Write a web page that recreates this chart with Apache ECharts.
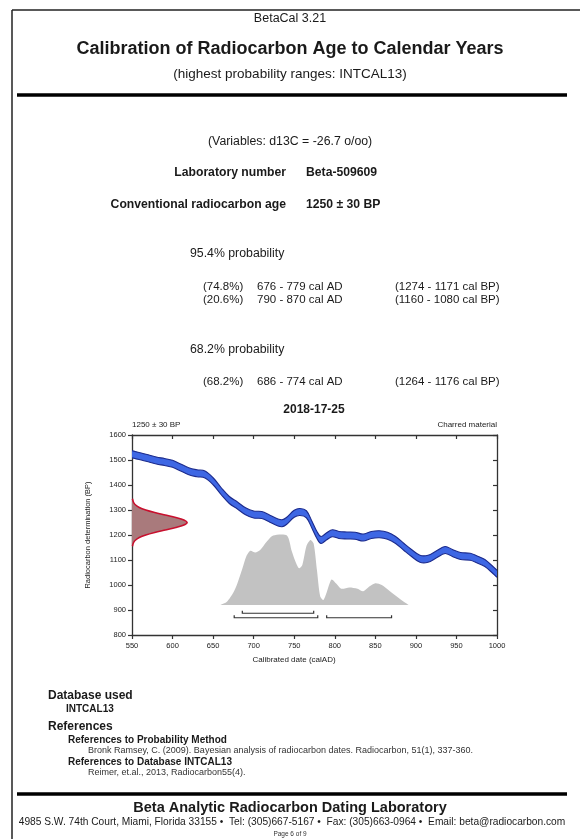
<!DOCTYPE html>
<html><head><meta charset="utf-8">
<script src="https://cdn.jsdelivr.net/npm/echarts@6/dist/echarts.min.js"></script>
<style>html,body{margin:0;padding:0;background:#fff}#c{width:580px;height:839px}</style>
</head><body><div id="c"></div>
<script>
// ---- calibration curve (INTCAL13) : calendar year AD -> BP (centre of band)
const calYears = [550,560,570,580,590,600,610,620,630,640,650,660,670,680,690,700,710,720,730,735,740,750,757,765,772,778,783,790,797,805,815,825,835,845,855,865,875,885,895,905,915,925,936,945,955,967,975,985,995,1000];
const calBP    = [1523,1515,1507,1498,1492,1485,1470,1455,1447,1442,1415,1375,1340,1318,1295,1282,1280,1265,1250,1247,1255,1285,1292,1283,1240,1200,1180,1195,1207,1200,1198,1197,1190,1200,1203,1197,1180,1153,1127,1105,1105,1122,1140,1128,1116,1113,1103,1088,1060,1045];
const calHalfWidth = 14;
// ---- calibrated probability distribution (grey)
const probYears = [659,667,675,680,686,691,696,702,708,716,724,741,747,752,756,760,765,770,774,778,782,786,790,796,802,808,818,828,835,843,850,858,868,880,891];
const probBP    = [920,933,970,1007,1065,1115,1137,1130,1140,1173,1198,1198,1135,1090,1067,1080,1155,1180,1165,1060,955,940,970,1022,1005,985,990,985,975,995,1007,1000,975,945,920];
const probBase = 920;
// ---- radiocarbon age distribution (red), width in axis years from 550
const gaussBP    = [1345,1330,1320,1310,1300,1290,1280,1270,1260,1250,1240,1230,1220,1210,1200,1190,1180,1170,1155];
const gaussWidth = [0.5,2,4.5,9,17,28,41,54,64,68,64,54,41,28,17,9,4.5,2,0.5];
const gaussBaseYear = 550;
// ---- probability ranges
const ranges95 = [[676,779],[790,870]];
const ranges68 = [[686,774]];
const range95Level = 869;
const range68Level = 887;
// ---- axes
const xMin = 550, xMax = 1000, xStep = 50;
const yMin = 800, yMax = 1600, yStep = 100;

const FF = '"Liberation Sans", Arial, Helvetica, sans-serif';
const chart = echarts.init(document.getElementById('c'), null, {renderer: 'canvas'});

function txt(text, x, y, size, opts) {
  opts = opts || {};
  return {type: 'text', z: 10, style: {
    text: text, x: x, y: y,
    font: (opts.bold ? 'bold ' : '') + size + 'px ' + FF,
    fill: opts.color || '#1a1a1a',
    align: opts.align || 'left', textAlign: opts.align || 'left',
    verticalAlign: 'middle', textVerticalAlign: 'middle'
  }};
}
function hline(x1, x2, y, w, c) {
  return {type: 'line', z: 10, shape: {x1: x1, y1: y, x2: x2, y2: y}, style: {stroke: c || '#000', lineWidth: w}};
}
function vline(x, y1, y2, w, c) {
  return {type: 'line', z: 10, shape: {x1: x, y1: y1, x2: x, y2: y2}, style: {stroke: c || '#000', lineWidth: w}};
}

const graphics = [
  hline(12, 580, 10, 1.5, '#222'),
  vline(12, 10, 839, 1.5, '#222'),
  txt('BetaCal 3.21', 290, 19, 12.5, {align: 'center'}),
  txt('Calibration of Radiocarbon Age to Calendar Years', 290, 49, 18, {bold: true, align: 'center'}),
  txt('(highest probability ranges: INTCAL13)', 290, 74, 13.5, {align: 'center'}),
  hline(17, 567, 95, 3.5, '#000'),
  txt('(Variables: d13C = -26.7 o/oo)', 208, 142, 12.3),
  txt('Laboratory number', 286, 173, 12.2, {bold: true, align: 'right'}),
  txt('Beta-509609', 306, 173, 12.2, {bold: true}),
  txt('Conventional radiocarbon age', 286, 205, 12.2, {bold: true, align: 'right'}),
  txt('1250 \u00b1 30 BP', 306, 205, 12.2, {bold: true}),
  txt('95.4% probability', 190, 254, 12.3),
  txt('(74.8%)', 203, 287, 11.5),
  txt('676 - 779 cal AD', 257, 287, 11.5),
  txt('(1274 - 1171 cal BP)', 395, 287, 11.5),
  txt('(20.6%)', 203, 300, 11.5),
  txt('790 - 870 cal AD', 257, 300, 11.5),
  txt('(1160 - 1080 cal BP)', 395, 300, 11.5),
  txt('68.2% probability', 190, 350, 12.3),
  txt('(68.2%)', 203, 382, 11.5),
  txt('686 - 774 cal AD', 257, 382, 11.5),
  txt('(1264 - 1176 cal BP)', 395, 382, 11.5),
  txt('2018-17-25', 314, 410, 12, {bold: true, align: 'center'}),
  txt('1250 \u00b1 30 BP', 132, 425, 8),
  txt('Charred material', 497, 425, 8, {align: 'right'}),
  txt('Calibrated date (calAD)', 294, 660, 8, {align: 'center'}),
  txt('Database used', 48, 696, 12, {bold: true}),
  txt('INTCAL13', 66, 709, 10, {bold: true}),
  txt('References', 48, 727, 12, {bold: true}),
  txt('References to Probability Method', 68, 740, 10, {bold: true}),
  txt('Bronk Ramsey, C. (2009). Bayesian analysis of radiocarbon dates. Radiocarbon, 51(1), 337-360.', 88, 751, 9, {color: '#333'}),
  txt('References to Database INTCAL13', 68, 762, 10, {bold: true}),
  txt('Reimer, et.al., 2013, Radiocarbon55(4).', 88, 773, 9, {color: '#333'}),
  hline(17, 567, 794, 3.5, '#000'),
  txt('Beta Analytic Radiocarbon Dating Laboratory', 290, 808, 14.5, {bold: true, align: 'center'}),
  txt('4985 S.W. 74th Court, Miami, Florida 33155 \u2022  Tel: (305)667-5167 \u2022  Fax: (305)663-0964 \u2022  Email: beta@radiocarbon.com', 292, 822, 10.2, {align: 'center'}),
  txt('Page 6 of 9', 290, 834, 6.5, {align: 'center', color: '#333'})
];

const axisLine = {show: true, lineStyle: {color: '#333', width: 1.3}};
const plain = function (v) { return String(v); };

const option = {
  animation: false,
  backgroundColor: '#fff',
  grid: {left: 132, right: 83, top: 435, bottom: 204, containLabel: false},
  xAxis: [
    {type: 'value', position: 'bottom', min: xMin, max: xMax, interval: xStep,
     axisLine: axisLine, axisTick: {show: true, inside: false, length: 4, lineStyle: {color: '#333', width: 1.2}},
     axisLabel: {fontSize: 7.5, color: '#222', margin: 7, fontFamily: FF, formatter: plain}, splitLine: {show: false}},
    {type: 'value', position: 'top', min: xMin, max: xMax, interval: xStep,
     axisLine: axisLine, axisTick: {show: true, inside: true, length: 4, lineStyle: {color: '#333', width: 1.2}},
     axisLabel: {show: false}, splitLine: {show: false}}
  ],
  yAxis: [
    {type: 'value', position: 'left', min: yMin, max: yMax, interval: yStep,
     name: 'Radiocarbon determination (BP)', nameLocation: 'middle', nameGap: 40,
     nameTextStyle: {fontSize: 7.5, color: '#222', fontFamily: FF},
     axisLine: axisLine, axisTick: {show: true, inside: false, length: 4, lineStyle: {color: '#333', width: 1.2}},
     axisLabel: {fontSize: 7.5, color: '#222', margin: 6, fontFamily: FF, formatter: plain}, splitLine: {show: false}},
    {type: 'value', position: 'right', min: yMin, max: yMax, interval: yStep,
     axisLine: axisLine, axisTick: {show: true, inside: true, length: 4, lineStyle: {color: '#333', width: 1.2}},
     axisLabel: {show: false}, splitLine: {show: false}}
  ],
  graphic: graphics,
  series: [
    {
      name: 'probability', type: 'custom', z: 1, silent: true,
      data: [[xMin, yMin]],
      renderItem: function (params, api) {
        const pts = [api.coord([probYears[0], probBase])];
        probYears.forEach(function (x, i) { pts.push(api.coord([x, probBP[i]])); });
        pts.push(api.coord([probYears[probYears.length - 1], probBase]));
        return {type: 'polygon', shape: {points: pts, smooth: 0.25}, style: {fill: '#c2c2c2', stroke: null}};
      }
    },
    {
      name: 'ranges', type: 'custom', z: 2, silent: true,
      data: [[xMin, yMin]],
      renderItem: function (params, api) {
        const children = [];
        function bracket(r, lvl) {
          const a = api.coord([r[0], lvl]), b = api.coord([r[1], lvl]);
          children.push({type: 'polyline', shape: {points: [[a[0], a[1] - 2.5], a, b, [b[0], b[1] - 2.5]]},
            style: {stroke: '#333', lineWidth: 1.2, fill: null}});
        }
        ranges68.forEach(function (r) { bracket(r, range68Level); });
        ranges95.forEach(function (r) { bracket(r, range95Level); });
        return {type: 'group', children: children};
      }
    },
    {
      name: 'calibration', type: 'custom', z: 3, silent: true, clip: true,
      data: [[xMin, yMin]],
      renderItem: function (params, api) {
        const upper = calYears.map(function (x, i) { return api.coord([x, calBP[i] + calHalfWidth]); });
        const lower = calYears.map(function (x, i) { return api.coord([x, calBP[i] - calHalfWidth]); });
        const poly = upper.concat(lower.slice().reverse());
        return {type: 'group', children: [
          {type: 'polygon', shape: {points: poly, smooth: 0.35}, style: {fill: '#3e67e4', stroke: null}},
          {type: 'polyline', shape: {points: upper, smooth: 0.35}, style: {stroke: '#1b2a8c', lineWidth: 1.1, fill: null}},
          {type: 'polyline', shape: {points: lower, smooth: 0.35}, style: {stroke: '#1b2a8c', lineWidth: 1.1, fill: null}}
        ]};
      }
    },
    {
      name: 'age', type: 'custom', z: 5, silent: true,
      data: [[xMin, yMin]],
      renderItem: function (params, api) {
        const curve = gaussBP.map(function (bp, i) { return api.coord([gaussBaseYear + gaussWidth[i], bp]); });
        const poly = [api.coord([gaussBaseYear, gaussBP[0]])].concat(curve, [api.coord([gaussBaseYear, gaussBP[gaussBP.length - 1]])]);
        return {type: 'group', children: [
          {type: 'polygon', shape: {points: poly, smooth: 0.2}, style: {fill: '#a97a7c', stroke: null}},
          {type: 'polyline', shape: {points: curve, smooth: 0.3}, style: {stroke: '#c8102e', lineWidth: 1.6, fill: null}}
        ]};
      }
    }
  ]
};
chart.setOption(option);
</script>
</body></html>
